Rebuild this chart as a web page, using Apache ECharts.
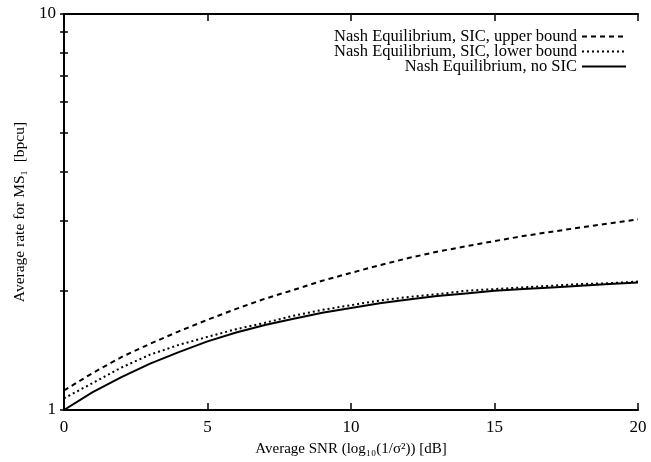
<!DOCTYPE html>
<html><head><meta charset="utf-8">
<script src="https://cdn.jsdelivr.net/npm/echarts@6/dist/echarts.min.js"></script>
<style>html,body{margin:0;padding:0;background:#fff}#c{width:651px;height:462px}</style>
</head><body><div id="c"></div>
<script>
const snr = [0,1,2,3,4,5,6,7,8,9,10,11,12,13,14,15,16,17,18,19,20];
const upperBound = [1.12,1.24,1.36,1.47,1.58,1.69,1.80,1.91,2.01,2.12,2.22,2.32,2.42,2.51,2.59,2.67,2.75,2.82,2.89,2.96,3.03];
const lowerBound = [1.07,1.17,1.28,1.38,1.46,1.53,1.60,1.66,1.73,1.79,1.84,1.89,1.93,1.96,2.00,2.02,2.04,2.06,2.08,2.09,2.11];
const noSic = [1.00,1.11,1.21,1.31,1.40,1.49,1.57,1.64,1.70,1.76,1.81,1.86,1.90,1.94,1.97,2.00,2.02,2.04,2.06,2.08,2.10];
const xTicks = [0,5,10,15,20];
const yLabels = [1,10];
const yMinorTicks = [1,2,3,4,5,6,7,8,9,10];
const names = ['Nash Equilibrium, SIC, upper bound','Nash Equilibrium, SIC, lower bound','Nash Equilibrium, no SIC'];

const font = 'Liberation Serif';
const pair = arr => snr.map((x,i)=>[x,arr[i]]);
const chart = echarts.init(document.getElementById('c'), null, {renderer:'canvas'});
const axLine = {show:true, lineStyle:{color:'#000', width:2}};
chart.setOption({
  animation:false,
  backgroundColor:'#fff',
  grid:{left:64,right:13,top:14,bottom:52,containLabel:false},
  legend:{
    orient:'vertical', right:24, top:28, align:'right', itemGap:-2, padding:0,
    itemWidth:44, itemHeight:15,
    itemStyle:{opacity:0},
    textStyle:{fontFamily:font,fontSize:16.5,color:'#000',lineHeight:15},
    data:names
  },
  xAxis:[{
    type:'value', min:0, max:20, interval:5, position:'bottom',
    name:'Average SNR (log\u2081\u2080(1/\u03C3\u00B2)) [dB]', nameLocation:'middle', nameGap:32,
    nameTextStyle:{fontFamily:font,fontSize:15,color:'#000'},
    axisLine:axLine, axisTick:{show:true,inside:true,length:7,lineStyle:{color:'#000',width:1.5}},
    axisLabel:{fontFamily:font,fontSize:17,color:'#000',margin:9,customValues:xTicks},
    splitLine:{show:false}
  },{
    type:'value', min:0, max:20, interval:5, position:'top',
    axisLine:axLine, axisTick:{show:true,inside:true,length:7,lineStyle:{color:'#000',width:1.5}},
    axisLabel:{show:false}, splitLine:{show:false}
  }],
  yAxis:[{
    type:'log', logBase:10, min:1, max:10, position:'left',
    name:'Average rate for MS\u2081  [bpcu]', nameLocation:'middle', nameGap:35, nameRotate:90,
    nameTextStyle:{fontFamily:font,fontSize:15.5,color:'#000'},
    axisLine:axLine,
    axisTick:{show:true,inside:true,length:4,customValues:yMinorTicks,lineStyle:{color:'#000',width:1.5}},
    axisLabel:{fontFamily:font,fontSize:17,color:'#000',margin:8,customValues:yLabels},
    splitLine:{show:false}
  },{
    type:'log', logBase:10, min:1, max:10, position:'right',
    axisLine:axLine,
    axisTick:{show:true,inside:true,length:4,customValues:yMinorTicks,lineStyle:{color:'#000',width:1.5}},
    axisLabel:{show:false}, splitLine:{show:false}
  }],
  series:[
    {name:names[0],type:'line',data:pair(upperBound),symbol:'none',lineStyle:{color:'#000',width:2,type:[5,4]},itemStyle:{color:'#000'}},
    {name:names[1],type:'line',data:pair(lowerBound),symbol:'none',lineStyle:{color:'#000',width:2,type:[2,3]},itemStyle:{color:'#000'}},
    {name:names[2],type:'line',data:pair(noSic),symbol:'none',lineStyle:{color:'#000',width:2,type:'solid'},itemStyle:{color:'#000'}}
  ]
});
</script></body></html>
